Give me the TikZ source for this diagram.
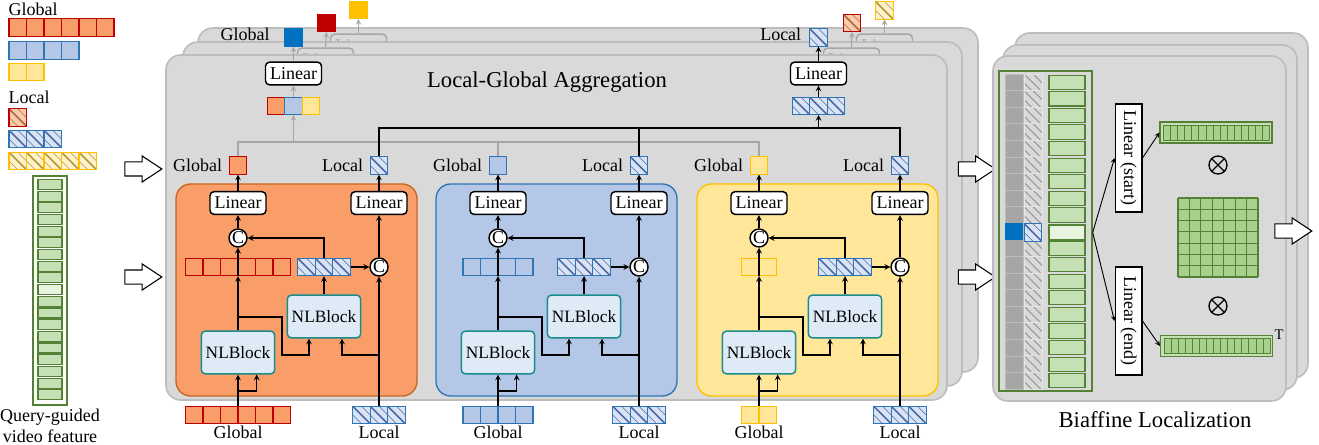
\documentclass[tikz,border=0pt]{standalone}
\usepackage{fontspec}
\setmainfont{Liberation Serif}
\usepackage{tikz}
\usetikzlibrary{shapes.geometric, shapes.arrows, arrows, positioning, calc}

\definecolor{panelgray}{HTML}{D9D9D9}
\definecolor{paneledge}{HTML}{BDBDBD}
\definecolor{arrgray}{HTML}{A6A6A6}
\definecolor{orangeP}{HTML}{F99E68}
\definecolor{orangeE}{HTML}{C8641E}
\definecolor{redB}{HTML}{C00000}
\definecolor{blueP}{HTML}{B4C7E7}
\definecolor{blueB}{HTML}{2E75B6}
\definecolor{blueS}{HTML}{0070C0}
\definecolor{yellowP}{HTML}{FFE699}
\definecolor{yellowB}{HTML}{FFC000}
\definecolor{hatchblue}{HTML}{DAE3F3}
\definecolor{hatchblueL}{HTML}{4A6AA8}
\definecolor{hatchred}{HTML}{F8CBAD}
\definecolor{hatchredL}{HTML}{B4643C}
\definecolor{hatchyel}{HTML}{FFF2CC}
\definecolor{hatchyelL}{HTML}{B49632}
\definecolor{hatchgray}{HTML}{9A9A9A}
\definecolor{cellgray}{HTML}{A6A6A6}
\definecolor{nlfill}{HTML}{DEEBF7}
\definecolor{nledge}{HTML}{1A8C8C}
\definecolor{greenF}{HTML}{C5E0B4}
\definecolor{greenD}{HTML}{A9D18E}
\definecolor{greenB}{HTML}{548235}
\definecolor{greenL}{HTML}{E8F3E0}

\tikzstyle{panel} = [rounded corners=11pt, draw=paneledge, fill=panelgray, line width=1.2pt]
\tikzstyle{linear} = [rectangle, rounded corners=3pt, draw=black, fill=white, line width=1.1pt, minimum width=42pt, minimum height=17pt, inner sep=1pt]
\tikzstyle{backlinear} = [linear, draw=arrgray, fill=panelgray, text=arrgray]
\tikzstyle{nlblock} = [rectangle, rounded corners=3pt, draw=nledge, fill=nlfill, line width=1.1pt, minimum width=54pt, minimum height=32pt, font=\fontsize{13}{15}\selectfont]
\tikzstyle{concat} = [circle, draw=black, fill=white, line width=1.1pt, inner sep=0pt, minimum size=13.5pt]
\tikzstyle{linbox} = [rectangle, draw=black, fill=white, line width=1pt, minimum width=81pt, minimum height=20pt, inner sep=1pt]
\tikzstyle{bigarrow} = [single arrow, draw=black, fill=white, line width=0.8pt, inner xsep=0pt, inner ysep=4.875pt, minimum height=27.75pt, single arrow head extend=4.5pt, single arrow tip angle=67]
\tikzstyle{cellbox} = [inner sep=0pt, minimum height=13.125pt]
\tikzstyle{lbl} = [inner sep=1pt]
\tikzstyle{arrow} = [line width=0.9pt,->,>=stealth]
\tikzstyle{grayarrow} = [line width=0.9pt,->,>=stealth, draw=arrgray]
\tikzstyle{grayline} = [line width=0.9pt, draw=arrgray]

% row of plain cells: name, cx, cy, count, fill, border
\newcommand{\cellrow}[6]{%
  \node (#1) [cellbox, minimum width=#4*13.125pt] at (#2,#3) {};
  \foreach \cc in {1,...,#4}{
    \pgfmathsetmacro\xa{#2-#4*8.75+(\cc-1)*17.5}
    \draw[line width=1pt, draw=#6, fill=#5] (\xa,#3-8.75) rectangle ++(17.5,17.5);
  }
}
% row of hatched cells: name, cx, cy, count, fill, hatch colour, border
\newcommand{\hatchrow}[7]{%
  \node (#1) [cellbox, minimum width=#4*13.125pt] at (#2,#3) {};
  \foreach \cc in {1,...,#4}{
    \pgfmathsetmacro\xa{#2-#4*8.75+(\cc-1)*17.5}
    \begin{scope}
      \clip (\xa,#3-8.75) rectangle ++(17.5,17.5);
      \fill[#5] (\xa,#3-8.75) rectangle ++(17.5,17.5);
      \draw[#6, line width=1.1pt] (\xa,#3-8.75) -- ++(17.5,17.5);
      \draw[#6, line width=0.5pt] (\xa+8.75,#3-8.75) -- ++(17.5,17.5) (\xa-8.75,#3-8.75) -- ++(17.5,17.5);
    \end{scope}
    \draw[line width=1pt, draw=#7] (\xa,#3-8.75) rectangle ++(17.5,17.5);
  }
}

\begin{document}
\begin{tikzpicture}[x=0.75pt, y=-0.75pt, font=\fontsize{13.5}{16}\selectfont]
\useasboundingbox (0,0) rectangle (1319,445);

% legend
\node (legG) [lbl, anchor=west] at (7,9) {Global};
\cellrow{legR}{61.5}{27.5}{6}{orangeP}{redB}
\cellrow{legB}{44}{50.5}{4}{blueP}{blueB}
\cellrow{legY}{26.5}{72}{2}{yellowP}{yellowB}
\node (legL) [lbl, anchor=west] at (7,97) {Local};
\hatchrow{legRh}{17.75}{117.5}{1}{hatchred}{hatchredL}{redB}
\hatchrow{legBh}{35.25}{139}{3}{hatchblue}{hatchblueL}{blueB}
\hatchrow{legYh}{52.75}{161}{5}{hatchyel}{hatchyelL}{yellowB}
\node (feat) [draw=greenB, fill=white, line width=1pt, minimum width=25.5pt, minimum height=171.75pt, inner sep=0pt] at (50,290.5) {};
\foreach \i in {0,...,18}
  \draw[fill=greenF, draw=greenB, line width=0.8pt] (38,179.5+\i*11.68) rectangle ++(24,10);
\draw[fill=greenL, draw=greenB, line width=0.8pt] (38,179.5+9*11.68) rectangle ++(24,10);
\node (qlab) [lbl, align=center, below=1pt of feat] {Query-guided\\video feature};
\node (barr1) [bigarrow] at (138,169) {};
\node (barr2) [bigarrow] at (138,277) {};

% back layers of the aggregation stack
\draw[panel] (198,28) rectangle (978,372);
\node (linB3) [backlinear] at (358.5,45.5) {Linear};
\node (linB3r) [backlinear] at (884.5,45.5) {Linear};
\cellrow{topG3}{358.5}{10}{1}{yellowB}{yellowB}
\hatchrow{topL3}{884.5}{10.5}{1}{hatchyel}{hatchyelL}{yellowB}
\draw[grayarrow] (linB3.north) -- (topG3.south);
\draw[grayarrow] (linB3r.north) -- (topL3.south);
\draw[panel] (183,42) rectangle (962,386);
\node (linB2) [backlinear] at (325.5,59.5) {Linear};
\node (linB2r) [backlinear] at (851.5,59.5) {Linear};
\cellrow{topG2}{326.5}{23}{1}{redB}{redB}
\hatchrow{topL2}{852}{23}{1}{hatchred}{hatchredL}{redB}
\draw[grayarrow] (linB2.north) -- (topG2.south);
\draw[grayarrow] (linB2r.north) -- (topL2.south);

% front layer
\draw[panel] (166,55) rectangle (947,400);
\node (title) [font=\fontsize{17}{20}\selectfont] at (547,82) {Local-Global Aggregation};
\node (linAG) [linear] at (293.5,73.5) {Linear};
\node (linAL) [linear] at (818.5,73.5) {Linear};
\node (aggG) [cellbox, minimum width=39.375pt] at (293.5,106) {};
\foreach \cf/\cd [count=\j from 0] in {orangeP/redB, blueP/blueB, yellowP/yellowB}
  \draw[line width=1pt, fill=\cf, draw=\cd] (267.25+\j*17.5,97.25) rectangle ++(17.5,17.5);
\hatchrow{aggL}{818.5}{106}{3}{hatchblue}{hatchblueL}{blueB}
\cellrow{topG1}{293.5}{37.5}{1}{blueS}{blueS}
\hatchrow{topL1}{818.5}{37.5}{1}{hatchblue}{hatchblueL}{blueB}
\node (topGlab) [lbl, left=10pt of topG1, yshift=2pt] {Global};
\node (topLlab) [lbl, left=5pt of topL1, yshift=2pt] {Local};
\draw[grayarrow] (aggG.north) -- (linAG.south);
\draw[grayarrow] (linAG.north) -- (topG1.south);
\draw[arrow] (aggL.north) -- (linAL.south);
\draw[arrow] (linAL.north) -- (topL1.south);

\coordinate (midbr) at (0,317);
\coordinate (lowbr) at (0,355);
\foreach \k/\dx/\n/\pf/\pe/\cb in {1/0/6/orangeP/orangeE/redB, 2/260/4/blueP/blueB/blueB, 3/521/2/yellowP/yellowB/yellowB}{
  \draw[rounded corners=11pt, fill=\pf, draw=\pe, line width=1pt] (176+\dx,184) rectangle (417+\dx,396);
  \cellrow{outG\k}{238+\dx}{165.5}{1}{\pf}{\cb}
  \hatchrow{outL\k}{379+\dx}{165.5}{1}{hatchblue}{hatchblueL}{blueB}
  \node (outGlab\k) [lbl, left=4pt of outG\k] {Global};
  \node (outLlab\k) [lbl, left=4pt of outL\k] {Local};
  \node (linG\k) [linear] at (238+\dx,203) {Linear};
  \node (linL\k) [linear] at (379+\dx,203) {Linear};
  \node (cG\k) [concat] at (238+\dx,238) {C};
  \node (cL\k) [concat] at (379+\dx,267) {C};
  \cellrow{rowG\k}{238+\dx}{267}{\n}{none}{\cb}
  \hatchrow{rowH\k}{324+\dx}{267}{3}{hatchblue}{hatchblueL}{blueB}
  \node (nlR\k) [nlblock] at (324+\dx,316.5) {NLBlock};
  \node (nlL\k) [nlblock] at (238+\dx,352.5) {NLBlock};
  \cellrow{inG\k}{238+\dx}{415}{\n}{\pf}{\cb}
  \hatchrow{inL\k}{379+\dx}{415}{3}{hatchblue}{hatchblueL}{blueB}
  \node (inGlab\k) [lbl, below=0pt of inG\k] {Global};
  \node (inLlab\k) [lbl, below=0pt of inL\k] {Local};
  % global branch
  \draw[arrow] (inG\k.north) -- (nlL\k.south);
  \draw[arrow] (inG\k.north) ++(0,-15) -| ([xshift=14pt]nlL\k.south);
  \draw[arrow] (nlL\k.north) -- (rowG\k.south);
  \draw[line width=0.9pt] (rowG\k.south) -- (rowG\k.north);
  \draw[arrow] (nlL\k.north |- midbr) -- ++(44,0) -- ++(0,38) -| ([xshift=-11.25pt]nlR\k.south);
  \draw[arrow] (rowG\k.north) -- (cG\k.south);
  \draw[arrow] (cG\k.north) -- (linG\k.south);
  \draw[arrow] (linG\k.north) -- (outG\k.south);
  % local branch
  \draw[arrow] (inL\k.north) -- (cL\k.south);
  \draw[arrow] (inL\k.north |- lowbr) -| ([xshift=13.5pt]nlR\k.south);
  \draw[arrow] (nlR\k.north) -- (rowH\k.south);
  \draw[arrow] (rowH\k.east) -- (cL\k.west);
  \draw[arrow] (rowH\k.north) |- (cG\k.east);
  \draw[arrow] (cL\k.north) -- (linL\k.south);
  \draw[arrow] (linL\k.north) -- (outL\k.south);
}

% aggregation buses
\coordinate (gbus) at (0,142);
\coordinate (lbus) at (0,128);
\draw[grayline] (outG1.north) |- (outG3.north |- gbus) -- (outG3.north);
\draw[grayline] (outG2.north) -- (outG2.north |- gbus);
\draw[grayarrow] (aggG.south |- gbus) -- (aggG.south);
\draw[line width=0.9pt] (outL1.north) |- (outL3.north |- lbus) -- (outL3.north);
\draw[line width=0.9pt] (outL2.north) -- (outL2.north |- lbus);
\draw[arrow] (aggL.south |- lbus) -- (aggL.south);

\node (barr3) [bigarrow] at (971.5,169) {};
\node (barr4) [bigarrow] at (971.5,277) {};

% biaffine stack
\draw[panel] (1015,33) rectangle (1308,378);
\draw[panel] (1003,45) rectangle (1297,390);
\draw[panel] (993,56) rectangle (1286,401);
\node (feat2) [draw=greenB, line width=1pt, minimum width=69.75pt, minimum height=240pt, inner sep=0pt] at (1045.5,231) {};
\foreach \i in {0,...,18}{
  \draw[fill=cellgray, draw=paneledge, line width=0.5pt] (1005,74+\i*16.58) rectangle ++(18,16.58);
  \begin{scope}
    \clip (1024,74+\i*16.58) rectangle ++(18,16.58);
    \fill[panelgray] (1024,74+\i*16.58) rectangle ++(18,16.58);
    \draw[hatchgray, line width=0.8pt] (1024,74+\i*16.58) -- ++(18,18) (1033,74+\i*16.58) -- ++(18,18) (1015,74+\i*16.58) -- ++(18,18);
  \end{scope}
  \draw[draw=white!80!gray, line width=0.6pt] (1024,74+\i*16.58) rectangle ++(18,16.58);
  \draw[fill=greenF, draw=greenB, line width=0.8pt] (1049,75.2+\i*16.58) rectangle ++(36,14.2);
}
\fill[blueS] (1005,74+9*16.58) rectangle ++(18,16.58);
\hatchrow{hlh}{1033}{232.5}{1}{hatchblue}{hatchblueL}{blueB}
\node (hl) [draw=greenB, fill=greenL, line width=0.8pt, minimum width=27pt, minimum height=10.65pt, inner sep=0pt] at (1067,232.5) {};
\node (linS) [linbox, rotate=-90] at (1128.5,158) {Linear (start)};
\node (linE) [linbox, rotate=-90] at (1128.5,321) {Linear (end)};
\draw[arrow, line width=0.7pt] (feat2.east |- hl.center) -- (linS.south);
\draw[arrow, line width=0.7pt] (feat2.east |- hl.center) -- (linE.south);
\node (vecS) [draw=greenB, fill=greenF, line width=0.8pt, minimum width=84pt, minimum height=15.75pt, inner sep=0pt] at (1216,132.5) {};
\node (vecE) [draw=greenB, fill=greenF, line width=0.8pt, minimum width=84pt, minimum height=15.75pt, inner sep=0pt] at (1216.5,346) {};
\foreach \j in {0,...,14}{
  \draw[fill=greenD, draw=greenB, line width=0.6pt] (1163.5+\j*7.07,125) rectangle ++(7.07,15);
  \draw[fill=greenD, draw=greenB, line width=0.6pt] (1164+\j*7.07,338.5) rectangle ++(7.07,15);
}
\draw[arrow, line width=0.7pt] (linS.north) -- (vecS.west);
\draw[arrow, line width=0.7pt] (linE.north) -- (vecE.west);
\node (tT) [lbl, font=\fontsize{11}{12}\selectfont, right=0pt of vecE.north east] {T};
\node (ot1) [circle, draw=black, line width=1pt, minimum size=13.5pt, inner sep=0pt] at (1218,165) {};
\node (ot2) [circle, draw=black, line width=1pt, minimum size=13.5pt, inner sep=0pt] at (1218,306) {};
\draw[line width=1pt] (ot1.north west) -- (ot1.south east) (ot1.north east) -- (ot1.south west);
\draw[line width=1pt] (ot2.north west) -- (ot2.south east) (ot2.north east) -- (ot2.south west);
\fill[greenD] (1178,198) rectangle (1258,277);
\foreach \g in {0,...,7}{
  \draw[greenB, line width=0.8pt] (1178+\g*11.43,198) -- ++(0,79);
  \draw[greenB, line width=0.8pt] (1178,198+\g*11.29) -- ++(80,0);
}
\node (barr5) [bigarrow] at (1288,231) {};
\node (bft) [font=\fontsize{17}{20}\selectfont] at (1155,420) {Biaffine Localization};
\end{tikzpicture}
\end{document}
